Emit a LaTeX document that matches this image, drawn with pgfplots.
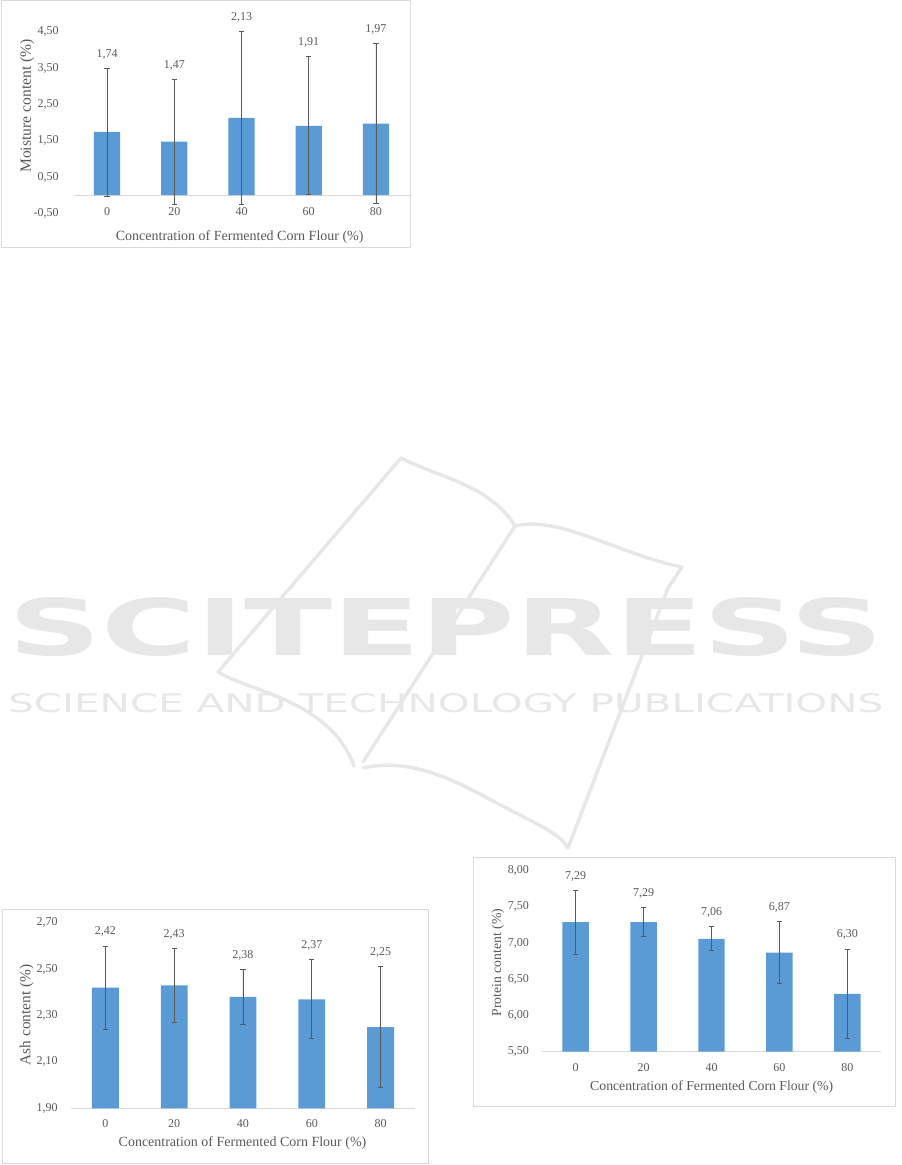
\documentclass[border=0pt]{standalone}
\usepackage{pgfplots}
\pgfplotsset{compat=1.18}
\usepackage{pgfplotstable}
\usepackage{fontspec}
\setmainfont{Liberation Serif}
\newfontfamily\wmfont{DejaVu Sans}
\definecolor{barblue}{HTML}{5B9BD5}
\definecolor{txt}{HTML}{595959}
\definecolor{framec}{HTML}{D9D9D9}
\definecolor{errc}{HTML}{5A5A5A}
\definecolor{wm}{HTML}{E6E7E6}

\pgfplotstableread{
x y e
0 1.74 1.76
1 1.47 1.72
2 2.13 2.37
3 1.91 1.90
4 1.97 2.20
}\moist
\pgfplotstableread{
x y e
0 2.42 0.18
1 2.43 0.16
2 2.38 0.12
3 2.37 0.17
4 2.25 0.26
}\ash
\pgfplotstableread{
x y e
0 7.29 0.44
1 7.29 0.20
2 7.06 0.165
3 6.87 0.43
4 6.30 0.62
}\prot

\pgfplotsset{
  mychart/.style={
    scale only axis, anchor=south west,
    xmin=-0.5, xmax=4.5,
    axis line style={draw=none}, major tick length=0pt,
    xtick={0,1,2,3,4}, xticklabels={0,20,40,60,80},
    /pgf/number format/assume math mode=true,
    tick label style={font=\fontsize{9}{10}\selectfont, text=txt, inner sep=0pt},
    yticklabel={\pgfmathprintnumber[fixed,fixed zerofill,precision=2,use comma]{\tick}},
  },
  barplot/.style={ybar, bar shift=0pt, bar width=0.39, fill=barblue, draw=none,
    error bars/.cd, y dir=both, y explicit,
    error bar style={line width=0.5pt, color=errc},
    error mark options={rotate=90, mark size=2pt, line width=0.5pt, color=errc}},
  labplot/.style={draw=none, no marks, point meta=explicit,
    nodes near coords={\pgfmathprintnumber[fixed,fixed zerofill,precision=2,use comma]{\pgfplotspointmeta}},
    every node near coord/.style={anchor=base, inner sep=0pt, yshift=8.25pt,
      font=\fontsize{9}{10}\selectfont, text=txt}},
}

\begin{document}
\begin{tikzpicture}
\path[use as bounding box] (0,0) rectangle (675.75pt,873.75pt);
\begin{scope}[x=0.75pt,y=-0.75pt,shift={(0pt,873.75pt)}]
  % watermark
  \begin{scope}[draw=wm, line width=2.6pt, line cap=round, line join=round]
    \draw (218,672) -- (401,458) .. controls (440,478) and (490,485) .. (515,526)
          .. controls (560,515) and (620,555) .. (682,567) -- (668,588) -- (568,848);
    \draw (515,526) -- (363,762);
    \draw (218,672) .. controls (250,692) and (330,700) .. (354,766);
    \draw (363,768) .. controls (420,755) and (470,790) .. (520,815)
          .. controls (545,828) and (560,835) .. (568,848);
  \end{scope}
  \node[anchor=north west, inner sep=0pt, text=wm] at (8,597)
    {\resizebox{656.25pt}{43.5pt}{\wmfont\bfseries SCITEPRESS}};
  \node[anchor=north west, inner sep=0pt, text=wm] at (8,693)
    {\resizebox{656.25pt}{14.25pt}{\wmfont SCIENCE AND TECHNOLOGY PUBLICATIONS}};
  % frames
  \draw[framec, line width=0.75pt] (1,1) rectangle (410,247.5);
  \draw[framec, line width=0.75pt] (2.7,909.5) rectangle (428,1164);
  \draw[framec, line width=0.75pt] (473,857.5) rectangle (895,1106.7);
  % baselines
  \draw[framec, line width=0.75pt] (73.5,195.15) -- (409.5,195.15);
  \draw[framec, line width=0.75pt] (71,1108.3) -- (415,1108.3);
  \draw[framec, line width=0.75pt] (541.75,1051.7) -- (881.25,1051.7);
  % titles
  \begin{scope}[every node/.style={text=txt, inner sep=0pt}]
    \node[font=\fontsize{10.5}{12}\selectfont] at (239.7,236.7) {Concentration of Fermented Corn Flour (\%)};
    \node[font=\fontsize{11.7}{13}\selectfont, rotate=90] at (27,106) {Moisture content (\%)};
    \node[font=\fontsize{10.5}{12}\selectfont] at (242.5,1143.3) {Concentration of Fermented Corn Flour (\%)};
    \node[font=\fontsize{11.5}{13}\selectfont, rotate=90] at (26.7,1015) {Ash content (\%)};
    \node[font=\fontsize{10.3}{12}\selectfont] at (711.7,1086.7) {Concentration of Fermented Corn Flour (\%)};
    \node[font=\fontsize{10.3}{12}\selectfont, rotate=90] at (497.7,962.5) {Protein content (\%)};
  \end{scope}
\end{scope}

% Moisture
\begin{axis}[mychart, at={(55.125pt,713.775pt)}, width=252pt, height=136.2pt,
  ymin=-0.5, ymax=4.5, ytick={-0.5,0.5,1.5,2.5,3.5,4.5}, clip=false,
  yticklabel style={anchor=east, xshift=-10.9pt},
  xticklabel style={anchor=base, yshift=-1.8pt}]
  \addplot[barplot] table[x=x, y=y, y error=e] {\moist};
  \addplot[labplot] table[x=x, y expr=\thisrow{y}+\thisrow{e}, meta=y] {\moist};
\end{axis}

% Ash
\begin{axis}[mychart, at={(53.25pt,42.525pt)}, width=258pt, height=147.9pt,
  ymin=1.9, ymax=2.75, ytick={1.9,2.1,2.3,2.5,2.7},
  yticklabel style={anchor=east, xshift=-9.75pt},
  xticklabel style={anchor=base, yshift=-14.25pt}]
  \addplot[barplot] table[x=x, y=y, y error=e] {\ash};
  \addplot[labplot] table[x=x, y expr=\thisrow{y}+\thisrow{e}, meta=y] {\ash};
\end{axis}

% Protein
\begin{axis}[mychart, at={(406.3125pt,84.975pt)}, width=254.625pt, height=141.18pt,
  ymin=5.5, ymax=8.1, ytick={5.5,6,6.5,7,7.5,8},
  yticklabel style={anchor=east, xshift=-9.4pt},
  xticklabel style={anchor=base, yshift=-15pt}]
  \addplot[barplot] table[x=x, y=y, y error=e] {\prot};
  \addplot[labplot] table[x=x, y expr=\thisrow{y}+\thisrow{e}, meta=y] {\prot};
\end{axis}
\end{tikzpicture}
\end{document}
